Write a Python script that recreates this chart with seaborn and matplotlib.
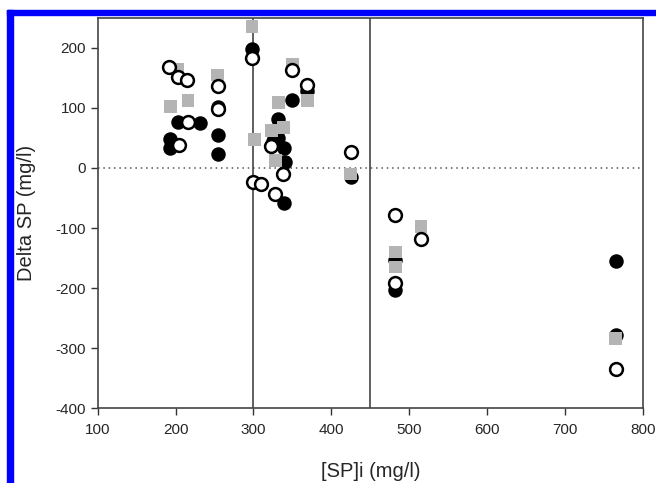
import matplotlib as mpl
import matplotlib.pyplot as plt
from matplotlib.patches import Rectangle
import seaborn as sns
import pandas as pd
import numpy as np

sns.set_style('white')
mpl.rcParams['font.family'] = ['Liberation Sans', 'DejaVu Sans']
mpl.rcParams['axes.unicode_minus'] = False

# filled circles
black_x = [298, 254, 254, 254, 203, 231, 193, 193, 339, 350, 369, 332, 332, 339, 340, 325,
           425, 482, 482, 765, 765]
black_y = [198, 102, 55, 24, 77, 75, 49, 33, -58, 113, 128, 81, 50, 33, 10, 45,
           -15, -153, -203, -155, -279]

# open circles
open_x = [298, 192, 203, 215, 254, 254, 216, 204, 300, 309, 328, 350, 369, 323, 338,
          425, 482, 482, 515, 765]
open_y = [183, 168, 152, 147, 137, 98, 77, 38, -23, -27, -43, 163, 138, 37, -10,
          27, -78, -192, -119, -334]

# gray squares
gray_x = [298, 203, 254, 193, 216, 301, 350, 369, 332, 323, 339, 328, 425, 482, 482, 515, 765]
gray_y = [235, 165, 155, 103, 113, 48, 172, 113, 109, 63, 68, 13, -10, -140, -165, -98, -284]

x_ticks = [100, 200, 300, 400, 500, 600, 700, 800]
y_ticks = [-400, -300, -200, -100, 0, 100, 200]
limits_x = [300, 450]

black = pd.DataFrame({'SPi': black_x, 'Delta': black_y})
opened = pd.DataFrame({'SPi': open_x, 'Delta': open_y})
gray = pd.DataFrame({'SPi': gray_x, 'Delta': gray_y})

fig = plt.figure(figsize=(6.56, 4.83), dpi=100)
ax = fig.add_axes([0.149, 0.155, 0.831, 0.808])

ax.axhline(0, color='#555555', lw=1.1, ls=(0, (1, 2.5)), zorder=1)
for xv in limits_x:
    ax.axvline(xv, color='#444444', lw=1.2, zorder=1)

sns.scatterplot(data=black, x='SPi', y='Delta', ax=ax, marker='o', s=85,
                color='black', edgecolor='black', linewidth=1.2, zorder=3)
sns.scatterplot(data=gray, x='SPi', y='Delta', ax=ax, marker='s', s=85,
                color='#b4b4b4', edgecolor='none', linewidth=0, zorder=4)
sns.scatterplot(data=opened, x='SPi', y='Delta', ax=ax, marker='o', s=85,
                color='white', edgecolor='black', linewidth=1.8, zorder=5)

ax.set_xlim(100, 800)
ax.set_ylim(-400, 250)
ax.set_xticks(x_ticks)
ax.set_yticks(y_ticks)
ax.tick_params(axis='both', direction='out', length=5, width=1, color='#333333',
               labelsize=11, left=True, bottom=True)
ax.tick_params(axis='x', pad=6)
for sp in ax.spines.values():
    sp.set_color('#444444')
    sp.set_linewidth(1.2)

ax.set_xlabel('[SP]i (mg/l)', fontsize=14.5, labelpad=18)
ax.set_ylabel('Delta SP (mg/l)', fontsize=14.5, labelpad=14)

# blue frame on top and left edges
fig.patches.append(Rectangle((7 / 656, 0), 6 / 656, 1 - 10 / 483, transform=fig.transFigure,
                             color='#0000ff', zorder=10))
fig.patches.append(Rectangle((7 / 656, 1 - 15 / 483), 1, 5 / 483, transform=fig.transFigure,
                             color='#0000ff', zorder=10))

plt.savefig('out.png', dpi=100)
